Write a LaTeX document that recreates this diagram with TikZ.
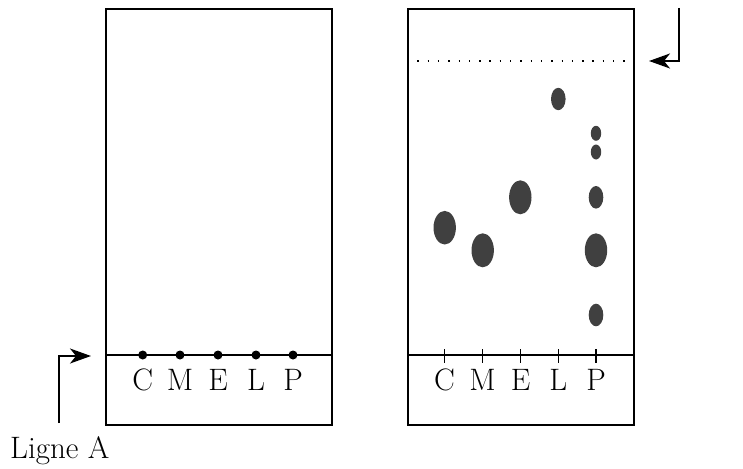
\documentclass[tikz,border=0pt]{standalone}
\usetikzlibrary{arrows.meta}
\begin{document}
\begin{tikzpicture}[x=1pt,y=-1pt,
  plate/.style={draw,line width=1.8pt,minimum width=226pt,minimum height=416pt,inner sep=0pt,anchor=north west},
  lbl/.style={font=\fontsize{31}{34}\selectfont,anchor=base,inner sep=0pt},
  spot/.style={fill=black!75,draw=none},
  dep/.style={circle,fill=black,inner sep=0pt,minimum size=9pt},
  pointer/.style={line width=1.8pt,-{Stealth[length=21pt,width=15pt,inset=6pt]}}]
\useasboundingbox (0,0) rectangle (743,468);
% plates
\node[plate] (pl1) at (105,8) {};
\node[plate] (pl2) at (407,8) {};
% start lines
\coordinate (s1a) at (105,355); \coordinate (s1b) at (331,355);
\coordinate (s2a) at (407,355); \coordinate (s2b) at (633,355);
\draw[line width=1.8pt] (s1a) -- (s1b);
\draw[line width=1.8pt] (s2a) -- (s2b);
% solvent front
\coordinate (f2a) at (407,61); \coordinate (f2b) at (633,61);
\draw[line width=1.4pt,dash pattern=on 1.4pt off 8.9pt] (f2a) -- (f2b);
% left plate deposits and labels
\foreach \n/\x in {C/142.7,M/180,E/218,L/256,P/293}{
  \node[dep] (d\n) at (\x,355) {};
  \node[lbl] (t\n) at (\x,390) {\n};
}
% right plate ticks and labels
\foreach \n/\x in {C/444.5,M/482.5,E/520.5,L/558.3,P/596}{
  \coordinate (ka\n) at (\x,349); \coordinate (kb\n) at (\x,363);
  \draw[line width=1.3pt] (ka\n) -- (kb\n);
  \node[lbl] (u\n) at (\x,390) {\n};
}
% spots
\fill[spot] (444.7,227.7) ellipse [x radius=11.2,y radius=16.8];
\fill[spot] (482.7,250.3) ellipse [x radius=11.2,y radius=17];
\fill[spot] (520.3,197.3) ellipse [x radius=11.2,y radius=17];
\fill[spot] (558.3,99) ellipse [x radius=7.3,y radius=11.2];
\fill[spot] (596,133.3) ellipse [x radius=5.2,y radius=7.5];
\fill[spot] (596,152) ellipse [x radius=5.2,y radius=7.5];
\fill[spot] (596,197.3) ellipse [x radius=7.3,y radius=11.3];
\fill[spot] (596,250.3) ellipse [x radius=11.2,y radius=17];
\fill[spot] (596,315) ellipse [x radius=7.3,y radius=11.3];
% Ligne A pointer
\node[lbl,anchor=base west] (ligne) at (10,458) {Ligne A};
\coordinate (la0) at (59,423);
\coordinate (la1) at (91,356);
\draw[pointer] (la0) |- (la1);
% front pointer
\coordinate (fa0) at (679,8);
\coordinate (fa1) at (649,61);
\draw[pointer] (fa0) |- (fa1);
\end{tikzpicture}
\end{document}
